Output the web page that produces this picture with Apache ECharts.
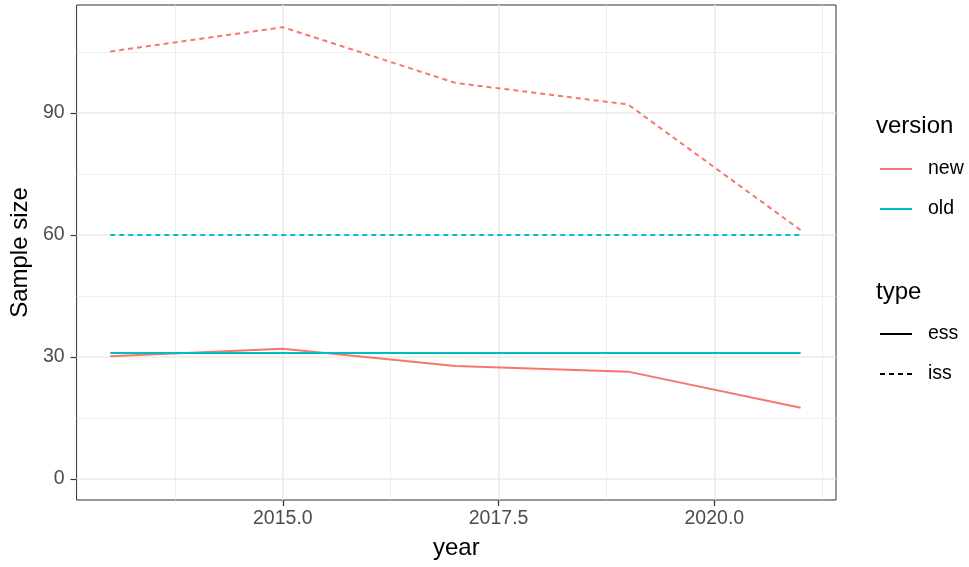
<!DOCTYPE html>
<html>
<head>
<meta charset="utf-8">
<script src="https://cdn.jsdelivr.net/npm/echarts@6/dist/echarts.min.js"></script>
<style>
  html, body { margin: 0; padding: 0; background: #fff; }
  #chart { width: 969px; height: 567px; }
</style>
</head>
<body>
<div id="chart"></div>
<script>
// data
const years = [2013, 2015, 2017, 2019, 2021];
const newEss = [30.2, 32.0, 27.8, 26.4, 17.5];
const newIss = [105.1, 111.1, 97.4, 92.1, 61.2];
const oldEss = [31, 31, 31, 31, 31];
const oldIss = [60, 60, 60, 60, 60];

const xTicks = [2015, 2017.5, 2020];
const xMinor = [2013.75, 2016.25, 2018.75, 2021.25];
const yTicks = [0, 30, 60, 90];
const yMinor = [15, 45, 75, 105];

const RED = '#F8766D';
const CYAN = '#00BFC4';
const FONT = '"Liberation Sans", Arial, sans-serif';

const pairs = (ys) => years.map((x, i) => [x, ys[i]]);

// grid lines drawn as mark lines so they sit on ggplot's breaks
const gridLines = [
  ...xMinor.map(v => ({ xAxis: v, lineStyle: { width: 0.8 } })),
  ...yMinor.map(v => ({ yAxis: v, lineStyle: { width: 0.8 } })),
  ...xTicks.map(v => ({ xAxis: v, lineStyle: { width: 1.6 } })),
  ...yTicks.map(v => ({ yAxis: v, lineStyle: { width: 1.6 } }))
];

function lineSeries(name, data, color, dashed) {
  return {
    name: name,
    type: 'line',
    data: data,
    symbol: 'none',
    z: 3,
    lineStyle: { color: color, width: 2, type: dashed ? [5, 4] : 'solid' },
    itemStyle: { color: color }
  };
}

const legendBase = {
  orient: 'vertical', left: 879,
  itemWidth: 32, itemHeight: 20, itemGap: 20, padding: 0,
  selectedMode: false,
  itemStyle: { opacity: 0 },
  lineStyle: { width: 2 },
  textStyle: { fontSize: 19.5, color: '#000', padding: [0, 0, 0, 11], fontFamily: FONT }
};

const chart = echarts.init(document.getElementById('chart'));
chart.setOption({
  animation: false,
  textStyle: { fontFamily: FONT },
  grid: {
    left: 74, top: 5, width: 762, height: 495,
    show: true, borderColor: '#333', borderWidth: 1, backgroundColor: '#fff'
  },
  xAxis: {
    type: 'value',
    min: 2012.61, max: 2021.41,
    name: 'year', nameLocation: 'middle', nameGap: 36,
    nameTextStyle: { fontSize: 24, color: '#000', fontFamily: FONT },
    axisLine: { show: false, onZero: false },
    splitLine: { show: false },
    axisTick: { show: true, length: 6, lineStyle: { color: '#333', width: 1.2 }, customValues: xTicks },
    axisLabel: {
      color: '#4d4d4d', fontSize: 19.5, margin: 9, fontFamily: FONT,
      customValues: xTicks,
      formatter: v => v.toFixed(1)
    }
  },
  yAxis: {
    type: 'value',
    min: -5.16, max: 116.55,
    name: 'Sample size', nameLocation: 'middle', nameGap: 40,
    nameTextStyle: { fontSize: 24, color: '#000', fontFamily: FONT },
    axisLine: { show: false, onZero: false },
    splitLine: { show: false },
    axisTick: { show: true, length: 6, lineStyle: { color: '#333', width: 1.2 }, customValues: yTicks },
    axisLabel: {
      color: '#4d4d4d', fontSize: 19.5, margin: 12, fontFamily: FONT,
      customValues: yTicks
    }
  },
  legend: [
    Object.assign({ data: ['new', 'old'], top: 159 }, legendBase),
    Object.assign({ data: ['ess', 'iss'], top: 324 }, legendBase)
  ],
  graphic: [
    { type: 'text', left: 876, top: 114, style: { text: 'version', fontSize: 24, fill: '#000', fontFamily: FONT } },
    { type: 'text', left: 876, top: 280, style: { text: 'type', fontSize: 24, fill: '#000', fontFamily: FONT } }
  ],
  series: [
    {
      name: 'grid', type: 'line', data: [], z: 1, silent: true,
      markLine: {
        z: 1, silent: true, symbol: 'none', label: { show: false },
        lineStyle: { color: '#ebebeb', type: 'solid' },
        animation: false,
        data: gridLines
      }
    },
    lineSeries('new ess', pairs(newEss), RED, false),
    lineSeries('old ess', pairs(oldEss), CYAN, false),
    lineSeries('new iss', pairs(newIss), RED, true),
    lineSeries('old iss', pairs(oldIss), CYAN, true),
    // legend keys only
    lineSeries('new', [], RED, false),
    lineSeries('old', [], CYAN, false),
    lineSeries('ess', [], '#000', false),
    lineSeries('iss', [], '#000', true)
  ]
});
</script>
</body>
</html>
